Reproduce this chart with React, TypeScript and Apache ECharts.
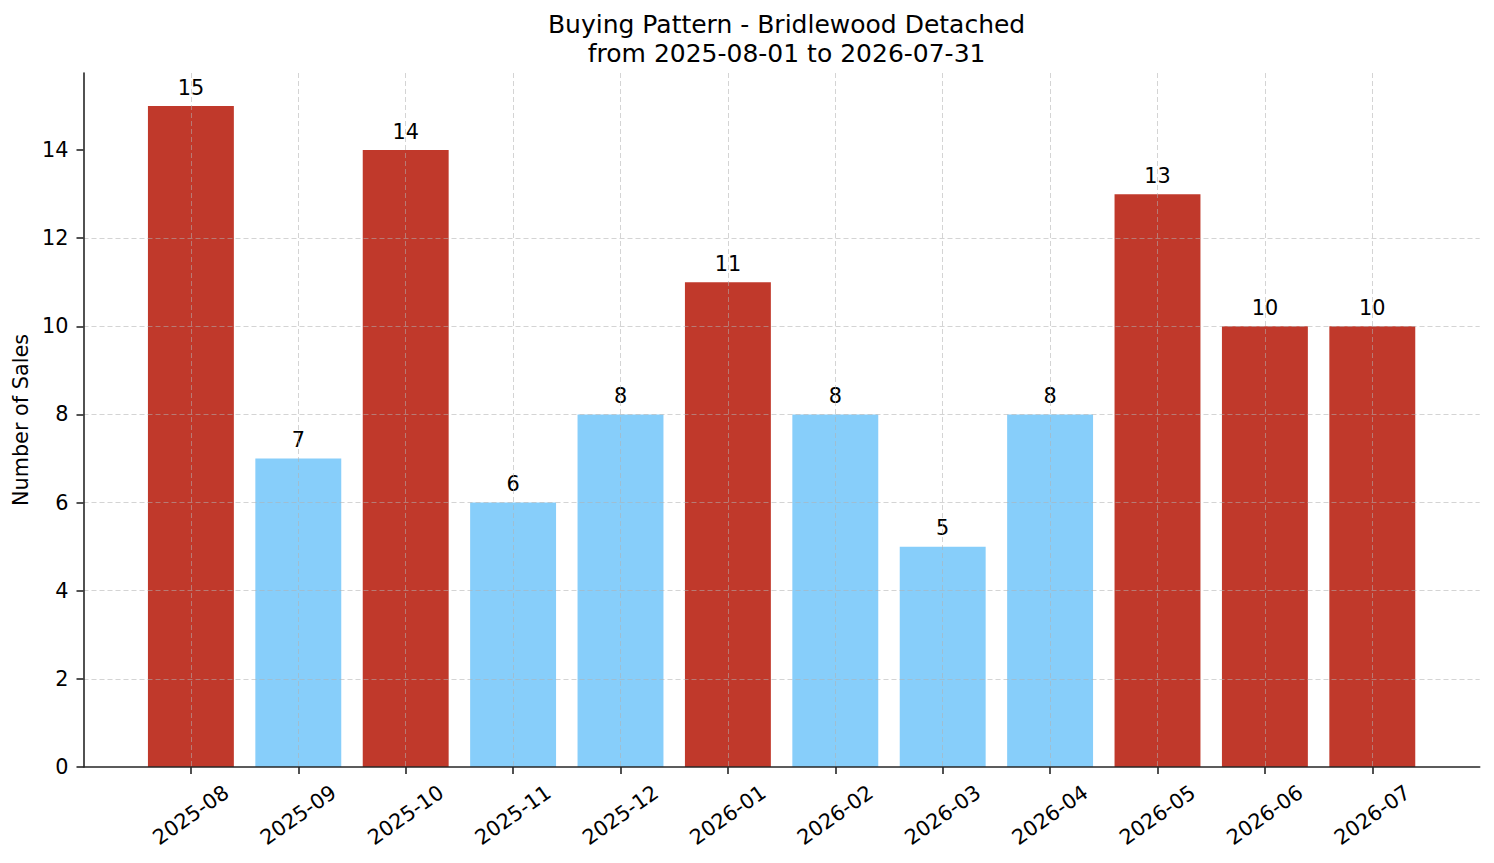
import React, { useEffect, useRef } from 'react';
import * as echarts from 'echarts';

const months = [
  '2025-08', '2025-09', '2025-10', '2025-11', '2025-12', '2026-01',
  '2026-02', '2026-03', '2026-04', '2026-05', '2026-06', '2026-07',
];
const sales = [15, 7, 14, 6, 8, 11, 8, 5, 8, 13, 10, 10];
const yTicks = [0, 2, 4, 6, 8, 10, 12, 14];

const FONT = 'DejaVu Sans';
const RED = '#c0392b';
const BLUE = '#87cefa';
const AXIS = '#262626';
const GRID = 'rgba(176, 176, 176, 0.55)';

// matplotlib-like layout: the frame grid has one category of margin each side,
// the bar grid is inset by half a category so bars sit on integer x positions
const STEP = 107.4;
const LEFT = 83.5;
const TOP = 73;
const BOTTOM = 96;
const RIGHT = 1494 - (LEFT + STEP * 13);
const Y_MAX = 15.75;

const App: React.FC = () => {
  const chartRef = useRef<HTMLDivElement>(null);

  useEffect(() => {
    if (!chartRef.current) return;
    const chart = echarts.init(chartRef.current, undefined, { renderer: 'svg' });
    const mean = sales.reduce((a, b) => a + b, 0) / sales.length;

    const option = {
      animation: false,
      textStyle: { fontFamily: FONT },
      title: {
        text: 'Buying Pattern - Bridlewood Detached\nfrom 2025-08-01 to 2026-07-31',
        left: LEFT + (STEP * 13) / 2,
        textAlign: 'center',
        top: 5,
        textStyle: {
          fontFamily: FONT,
          fontSize: 25,
          fontWeight: 'normal',
          color: '#000',
          lineHeight: 29,
        },
      },
      grid: [
        { left: LEFT, right: RIGHT, top: TOP, bottom: BOTTOM },
        { left: LEFT + STEP / 2, right: RIGHT + STEP / 2, top: TOP, bottom: BOTTOM },
      ],
      xAxis: [
        {
          type: 'value',
          gridIndex: 0,
          min: -1,
          max: 12,
          interval: 1,
          z: 3,
          axisLine: { show: true, onZero: false, lineStyle: { color: AXIS, width: 1.6 } },
          axisTick: { show: false },
          axisLabel: { show: false },
          splitLine: {
            show: true,
            showMinLine: false,
            showMaxLine: false,
            lineStyle: { color: GRID, width: 1, type: [5, 3] },
          },
        },
        {
          type: 'category',
          gridIndex: 1,
          data: months,
          axisLine: { show: false },
          axisTick: {
            show: true,
            alignWithLabel: true,
            length: 7,
            lineStyle: { color: AXIS, width: 1.6 },
          },
          axisLabel: {
            interval: 0,
            rotate: 35,
            align: 'center',
            verticalAlign: 'middle',
            margin: 48,
            fontFamily: FONT,
            fontSize: 20.8,
            color: '#000',
          },
          splitLine: { show: false },
        },
      ],
      yAxis: [
        {
          type: 'value',
          gridIndex: 0,
          min: 0,
          max: Y_MAX,
          interval: 2,
          z: 3,
          name: 'Number of Sales',
          nameLocation: 'middle',
          nameGap: 50,
          nameTextStyle: { fontFamily: FONT, fontSize: 20.8, color: '#000' },
          axisLine: { show: true, onZero: false, lineStyle: { color: AXIS, width: 1.6 } },
          axisTick: {
            show: true,
            length: 7,
            customValues: yTicks,
            lineStyle: { color: AXIS, width: 1.6 },
          },
          axisLabel: {
            customValues: yTicks,
            margin: 15,
            fontFamily: FONT,
            fontSize: 20.8,
            color: '#000',
          },
          splitLine: {
            show: true,
            showMinLine: false,
            showMaxLine: false,
            lineStyle: { color: GRID, width: 1, type: [5, 3] },
          },
        },
        {
          type: 'value',
          gridIndex: 1,
          min: 0,
          max: Y_MAX,
          show: false,
          splitLine: { show: false },
        },
      ],
      series: [
        {
          type: 'bar',
          xAxisIndex: 1,
          yAxisIndex: 1,
          barWidth: '80%',
          data: sales.map((v) => ({
            value: v,
            itemStyle: { color: v > mean ? RED : BLUE },
          })),
          label: {
            show: true,
            position: 'top',
            distance: 8,
            fontFamily: FONT,
            fontSize: 20.8,
            color: '#000',
          },
        },
      ],
    };

    chart.setOption(option);
    return () => {
      chart.dispose();
    };
  }, []);

  return (
    <div
      ref={chartRef}
      style={{ position: 'fixed', left: 0, top: 0, width: 1494, height: 863, background: '#fff' }}
    />
  );
};

export default App;
